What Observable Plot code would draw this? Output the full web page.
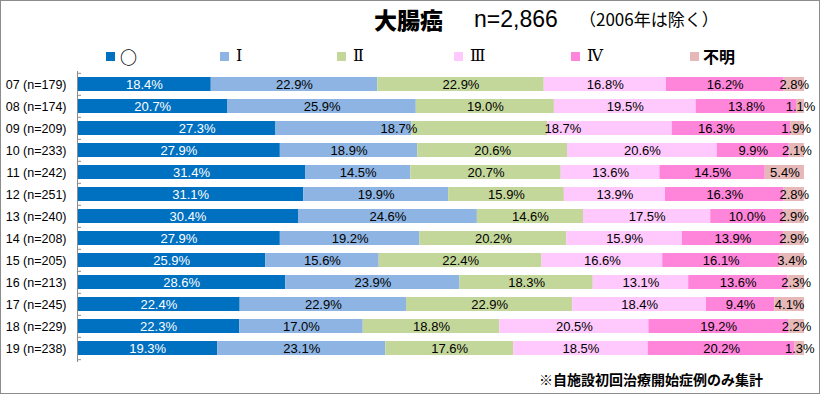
<!DOCTYPE html>
<html><head><meta charset="utf-8">
<script src="https://cdn.jsdelivr.net/npm/d3@7"></script>
<script src="https://cdn.jsdelivr.net/npm/@observablehq/plot@0.6"></script>
<style>
body{margin:0;background:#fff;font-family:"Liberation Sans",Arial,sans-serif;}
#wrap{position:relative;width:832px;height:395px;overflow:hidden;}
#frame{position:absolute;left:0;top:0;width:818px;height:392px;border:1px solid #8c8c8c;pointer-events:none;}
.t{position:absolute;white-space:nowrap;color:#000;}
.sw{position:absolute;width:9px;height:9px;}
</style></head>
<body><div id="wrap"><div id="chart"></div><div id="frame"></div></div>
<script>
const categories = ["07 (n=179)","08 (n=174)","09 (n=209)","10 (n=233)","11 (n=242)","12 (n=251)","13 (n=240)","14 (n=208)","15 (n=205)","16 (n=213)","17 (n=245)","18 (n=229)","19 (n=238)"];
const stages = ["○","Ⅰ","Ⅱ","Ⅲ","Ⅳ","不明"];
const colors = ["#0070C0","#8DB4E2","#C4D79B","#FFC9FD","#FF85DA","#E6B9B8"];
const stage0 = [18.4,20.7,27.3,27.9,31.4,31.1,30.4,27.9,25.9,28.6,22.4,22.3,19.3];
const stage1 = [22.9,25.9,18.7,18.9,14.5,19.9,24.6,19.2,15.6,23.9,22.9,17.0,23.1];
const stage2 = [22.9,19.0,18.7,20.6,20.7,15.9,14.6,20.2,22.4,18.3,22.9,18.8,17.6];
const stage3 = [16.8,19.5,17.1,20.6,13.6,13.9,17.5,15.9,16.6,13.1,18.4,20.5,18.5];
const stage4 = [16.2,13.8,16.3,9.9,14.5,16.3,10.0,13.9,16.1,13.6,9.4,19.2,20.2];
const stageU = [2.8,1.1,1.9,2.1,5.4,2.8,2.9,2.9,3.4,2.3,4.1,2.2,1.3];
const hiddenLabels = [["09 (n=209)","Ⅲ"]];
const title = "大腸癌";
const subtitle = "n=2,866";
const note = "（2006年は除く）";
const footnote = "※自施設初回治療開始症例のみ集計";

const series = [stage0,stage1,stage2,stage3,stage4,stageU];
const data = [];
categories.forEach((c,i)=>series.forEach((s,j)=>data.push({cat:c, stage:stages[j], value:s[i]})));
const isHidden = d => hiddenLabels.some(([c,s]) => c===d.cat && s===d.stage);

const W=832,H=395, mt=71, mb=33, ml=77, mr=28;
const step = (H-mt-mb)/categories.length;

const stackOpts = {x:"value", y:"cat", z:"stage", order: stages, offset:"normalize"};
const plot = Plot.plot({
  width: W, height: H,
  marginTop: mt, marginBottom: mb, marginLeft: ml, marginRight: mr,
  style: {fontFamily: '"Liberation Sans", Arial, sans-serif', fontSize: "12px", background: "transparent"},
  x: {domain:[0,1], axis:null},
  y: {domain: categories, paddingInner: 0.35, paddingOuter: 0.175, label: null},
  color: {domain: stages, range: colors},
  marks: [
    Plot.barX(data, Plot.stackX({...stackOpts, fill:"stage"})),
    Plot.text(data.filter(d=>!isHidden(d)), Plot.stackX({...stackOpts,
      text: d => d.value.toFixed(1)+"%",
      fill: d => d.stage==="○" ? "white" : "black",
      fontSize: 13})),
    Plot.ruleX([0], {stroke:"#8c8c8c"}),
    Plot.axisY({tickSize:0, tickPadding:11, fontSize:12.5, fill:"#000"}),
    Plot.axisY(categories, {tickSize:-4, dy:-step/2, stroke:"#8c8c8c", tickFormat: ()=>""}),
    Plot.axisY(categories.slice(-1), {tickSize:-4, dy:step/2, stroke:"#8c8c8c", tickFormat: ()=>""})
  ]
});
document.getElementById("chart").appendChild(plot);

const wrap = document.getElementById("wrap");
function addText(txt, x, y, size, weight, family){
  const d=document.createElement("div"); d.className="t"; d.textContent=txt;
  d.style.left=x+"px"; d.style.top=y+"px"; d.style.fontSize=size+"px"; d.style.fontWeight=weight||"normal";
  if(family) d.style.fontFamily=family;
  wrap.appendChild(d); return d;
}
const jp = '"Noto Sans CJK JP", sans-serif';
addText(title, 374, 2, 23, "900", jp);
addText(subtitle, 474, 6, 23, "normal", '"Liberation Sans", Arial, sans-serif');
addText(note, 579, 6, 17, "normal", jp);
addText(footnote, 539, 369, 14, "bold", jp);
const legX = [106, 220, 337, 454, 571, 690];
stages.forEach((s,i)=>{
  const sw=document.createElement("div"); sw.className="sw";
  sw.style.left=legX[i]+"px"; sw.style.top="52px"; sw.style.background=colors[i];
  wrap.appendChild(sw);
  addText(s, legX[i]+(i===0?14:(i===5?13:16)), i===0||i===5 ? 44 : 46, i===0?17:16, i===5?"bold":(i===0?"bold":"normal"), i===0||i===5 ? jp : '"DejaVu Serif", "Noto Sans CJK JP", serif');
});
</script></body></html>
